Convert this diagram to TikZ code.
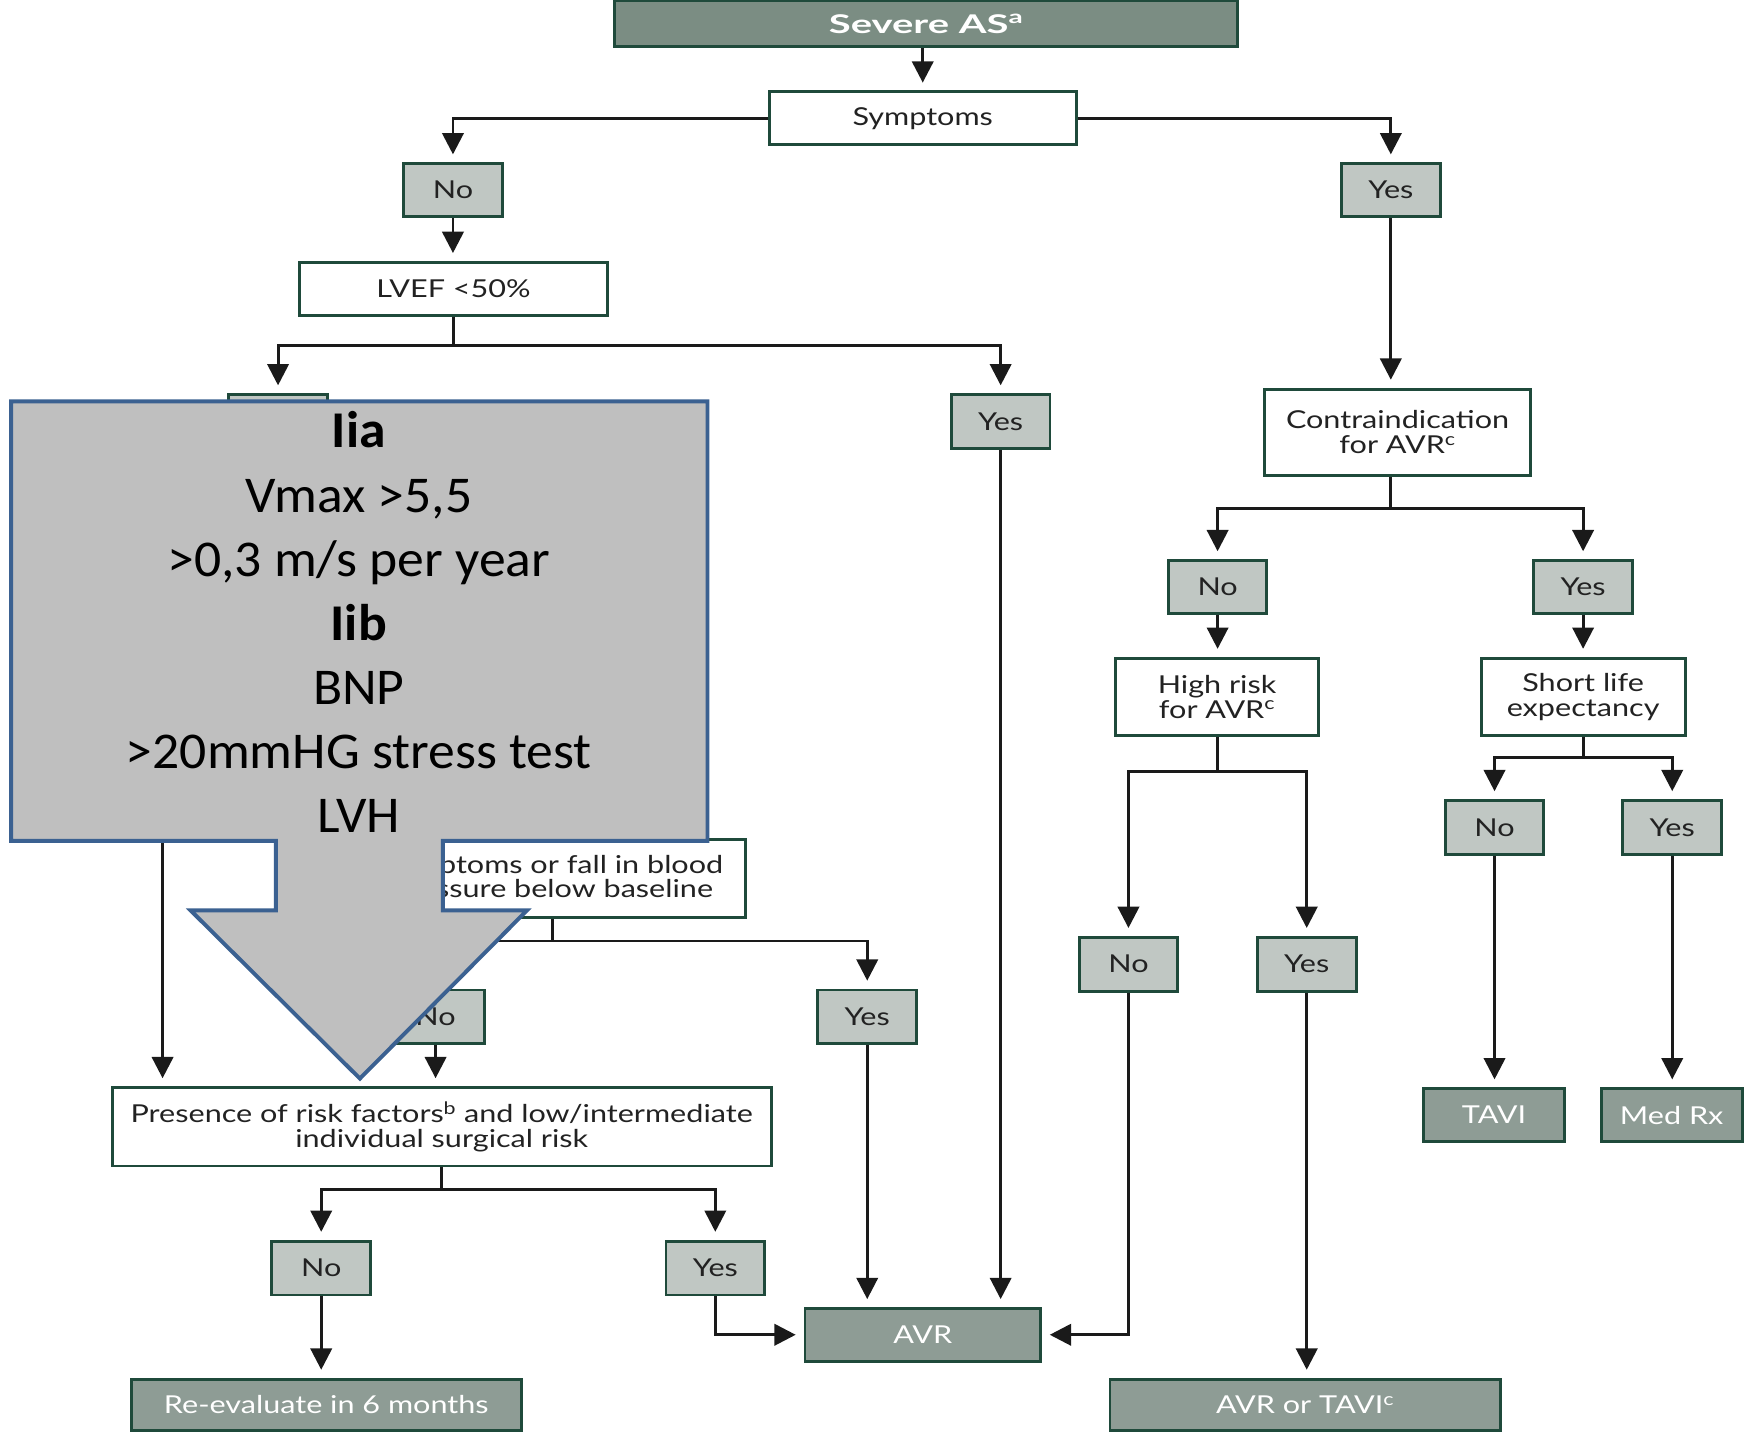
\documentclass[tikz,border=0pt]{standalone}
\usepackage{fontspec}
\setmainfont{Lato}[FakeStretch=1.24]
\newfontfamily\headfont{Lato}[FakeStretch=1.55]
\newfontfamily\calib{Carlito}[FakeStretch=1.04]
\usetikzlibrary{arrows.meta}
\definecolor{bord}{HTML}{1F4A3B}
\definecolor{headfill}{HTML}{7B8D83}
\definecolor{endfill}{HTML}{8E9C95}
\definecolor{ansfill}{HTML}{C0C7C3}
\definecolor{lin}{HTML}{1A1A1A}
\definecolor{txt}{HTML}{222222}
\definecolor{ovfill}{HTML}{BFBFBF}
\definecolor{ovline}{HTML}{3B6191}
\begin{document}
\begin{tikzpicture}[x=1pt,y=-1pt,
  box/.style={rectangle, draw=bord, line width=2.6pt, inner sep=0pt, align=center,
              font=\fontsize{22}{25}\selectfont, text=txt},
  qbox/.style={box, fill=white},
  ansbox/.style={box, fill=ansfill, minimum width=88pt, minimum height=47pt},
  endbox/.style={box, fill=endfill, text=white, minimum height=46pt},
  seg/.style={line width=2.6pt, draw=lin},
  conn/.style={seg, -{Triangle[width=19pt,length=19pt]}, shorten >=7pt},
  overlay/.style={fill=ovfill, draw=ovline, line width=3.5pt, line join=miter}
]
\useasboundingbox (0,0) rectangle (1568,1284);

% top of the chart
\node[box, fill=headfill, text=white, minimum width=556pt, minimum height=41pt,
      font=\headfont\fontsize{23}{25}\selectfont\bfseries] (sev) at (826,21) {Severe AS\textsuperscript{a}};
\node[qbox, minimum width=274pt, minimum height=47pt] (sym) at (823,105.5) {Symptoms};
\node[ansbox] (no1) at (404,169.5) {No};
\node[ansbox] (yes1) at (1240.5,169.5) {Yes};

% asymptomatic branch
\node[qbox, minimum width=275pt, minimum height=47pt] (lvef) at (404.5,257.5) {LVEF {<}50\%};
\node[ansbox, minimum height=48pt] (no2) at (248,376) {No};
\node[ansbox, minimum height=48pt] (yes2) at (892.5,376) {Yes};
\node[qbox, minimum width=344pt, minimum height=69pt] (exer) at (493,783.5)
     {Symptoms or fall in blood\\[-3pt]pressure below baseline};
\node[ansbox, minimum height=48pt] (no6) at (388.5,907) {No};
\node[ansbox, minimum height=48pt] (yes6) at (773.5,907) {Yes};
\node[qbox, minimum width=588pt, minimum height=70pt] (pres) at (394,1005)
     {Presence of risk factors\textsuperscript{b} and low/intermediate\\[-3pt]individual surgical risk};
\node[ansbox, minimum height=48pt] (no7) at (286.5,1131) {No};
\node[ansbox, minimum height=48pt] (yes7) at (638,1131) {Yes};
\node[endbox, minimum width=348pt] (reeval) at (291,1253) {Re-evaluate in 6 months};
\node[endbox, minimum width=210pt, minimum height=47pt] (avr) at (823,1190.5) {AVR};

% symptomatic branch
\node[qbox, minimum width=237pt, minimum height=77pt] (contra) at (1246.5,385.5)
     {Contraindication\\[-3pt]for AVR\textsuperscript{c}};
\node[ansbox] (no3) at (1086,523.5) {No};
\node[ansbox] (yes3) at (1412,523.5) {Yes};
\node[qbox, minimum width=181pt, minimum height=69pt] (high) at (1085.5,621.5)
     {High risk\\[-3pt]for AVR\textsuperscript{c}};
\node[qbox, minimum width=182pt, minimum height=69pt] (short) at (1412,621.5)
     {Short life\\[-3pt]expectancy};
\node[ansbox, minimum height=48pt] (no4) at (1333,738) {No};
\node[ansbox, minimum height=48pt] (yes4) at (1491.5,738) {Yes};
\node[ansbox, minimum height=48pt] (no5) at (1006.5,860) {No};
\node[ansbox, minimum height=48pt] (yes5) at (1165.5,860) {Yes};
\node[endbox, minimum width=125pt, minimum height=47pt] (tavi) at (1332.5,994.5) {TAVI};
\node[endbox, minimum width=126pt, minimum height=47pt] (medrx) at (1491,994.5) {Med Rx};
\node[endbox, minimum width=348pt] (avrtavi) at (1164,1253) {AVR or TAVI\textsuperscript{c}};

% connectors
\draw[conn] (sev.south -| sym.north) -- (sym.north);
\draw[conn] (sym.west) -| (no1);
\draw[conn] (sym.east) -| (yes1);
\draw[conn] (no1.south) -- (no1.south |- lvef.north);
\draw[seg] (lvef.south) -- ++(0,26) coordinate (b1);
\draw[conn] (b1) -| (no2);
\draw[conn] (b1) -| (yes2);
\draw[conn] (yes2.south) -- (yes2.south |- avr.north);
\draw[seg] (exer.south) -- ++(0,20) coordinate (b2);
\draw[conn] (b2) -| (no6);
\draw[conn] (b2) -| (yes6);
\draw[conn] (no6.south) -- (no6.south |- pres.north);
\draw[conn] (yes6.south) -- (yes6.south |- avr.north);
\coordinate (pa) at (145,740);
\draw[conn] (pa) -- (pa |- pres.north);
\draw[seg] (pres.south) -- ++(0,20) coordinate (b3);
\draw[conn] (b3) -| (no7);
\draw[conn] (b3) -| (yes7);
\draw[conn] (no7.south) -- (no7.south |- reeval.north);
\draw[conn] (yes7.south) |- (avr.west);

\draw[conn] (yes1.south) -- (yes1.south |- contra.north);
\draw[seg] (contra.south -| yes1.south) -- ++(0,28) coordinate (b4);
\draw[conn] (b4) -| (no3);
\draw[conn] (b4) -| (yes3);
\draw[conn] (no3.south) -- (no3.south |- high.north);
\draw[conn] (yes3.south) -- (yes3.south |- short.north);
\draw[seg] (high.south) -- ++(0,31) coordinate (b5);
\draw[conn] (b5) -| (no5);
\draw[conn] (b5) -| (yes5);
\draw[seg] (short.south) -- ++(0,18) coordinate (b6);
\draw[conn] (b6) -| (no4);
\draw[conn] (b6) -| (yes4);
\draw[conn] (no4.south) -- (no4.south |- tavi.north);
\draw[conn] (yes4.south) -- (yes4.south |- medrx.north);
\draw[conn] (no5.south) |- (avr.east);
\draw[conn] (yes5.south) -- (yes5.south |- avrtavi.north);

% block arrow with the class IIa / IIb criteria
\draw[overlay] (10,358) -- (631,358) -- (631,750) -- (395,750) -- (395,812)
  -- (470,812) -- (321,962) -- (170,812) -- (246,812) -- (246,750) -- (10,750) -- cycle;
\node[align=center, inner sep=0pt, text=black,
      font=\calib\fontsize{46}{57.2}\selectfont] (crit) at (320,555)
  {{\bfseries Iia}\\Vmax >5,5\\>0,3 m/s per year\\{\bfseries Iib}\\BNP\\>20mmHG stress test\\LVH};
\end{tikzpicture}
\end{document}
